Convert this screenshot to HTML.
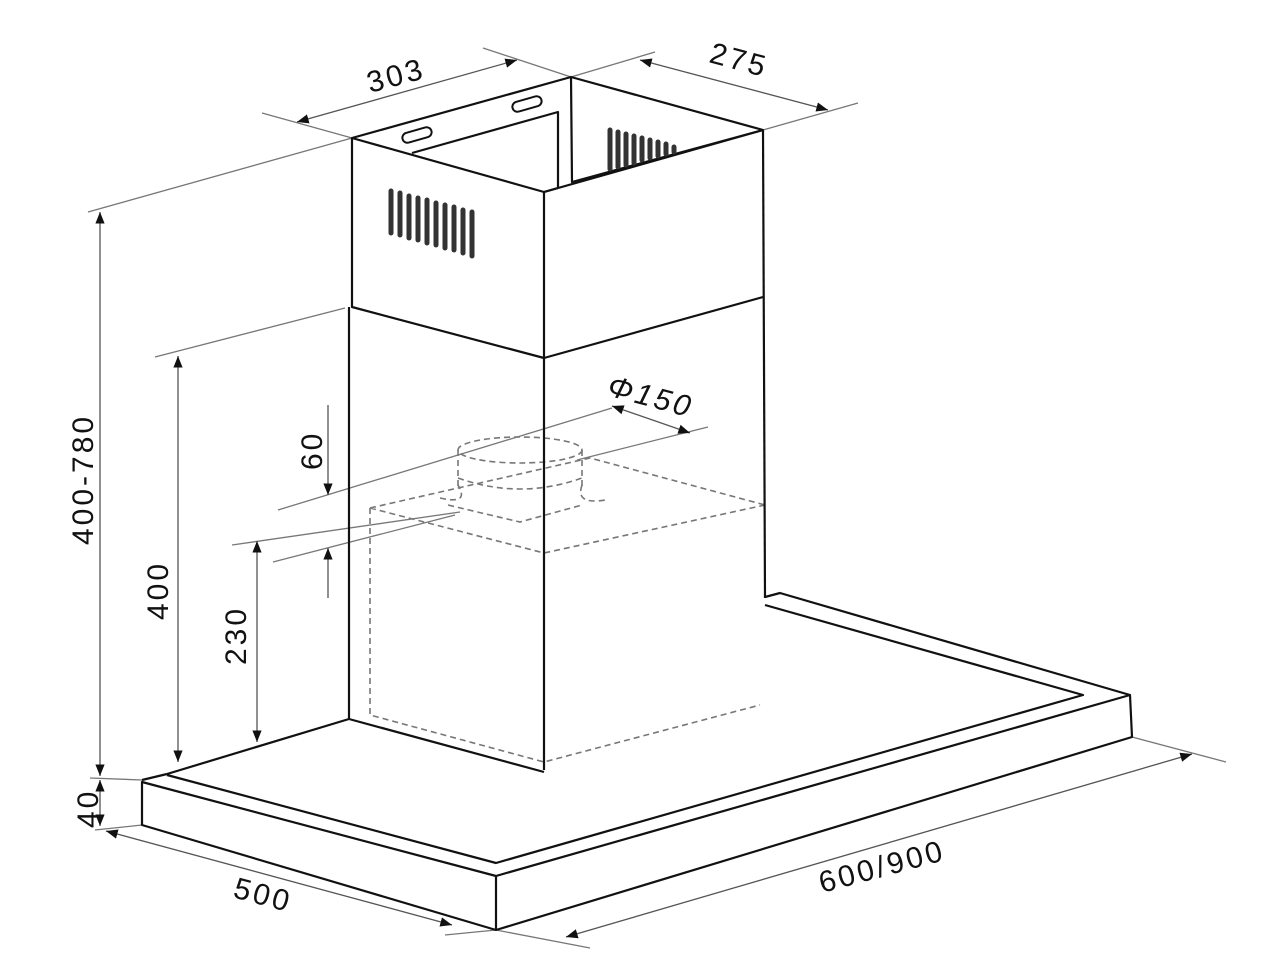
<!DOCTYPE html>
<html><head><meta charset="utf-8"><style>
html,body{margin:0;padding:0;background:#fff;}
svg{display:block}
text{font-family:"Liberation Sans",sans-serif;font-size:30px;fill:#111;letter-spacing:3px}
</style></head><body>
<svg width="1280" height="960" viewBox="0 0 1280 960" xmlns="http://www.w3.org/2000/svg">
<defs>
<marker id="a" viewBox="0 0 10 10" refX="10" refY="5" markerWidth="9" markerHeight="9" orient="auto-start-reverse"><path d="M0,1 L10,5 L0,9 z" fill="#111"/></marker>
</defs>
<g stroke="#777" stroke-width="1.3" fill="none">
<line x1="262" y1="113" x2="352" y2="138"/>
<line x1="483" y1="48" x2="571" y2="77"/>
<line x1="571" y1="77" x2="655" y2="52"/>
<line x1="763" y1="130" x2="858" y2="103"/>
<line x1="88" y1="212" x2="352" y2="138"/>
<line x1="90" y1="778" x2="142" y2="780"/>
<line x1="95" y1="830" x2="142" y2="825"/>
<line x1="155" y1="357" x2="345" y2="308"/>
<line x1="278" y1="510" x2="612" y2="408"/>
<line x1="577" y1="460" x2="708" y2="427"/>
<line x1="232" y1="545" x2="460" y2="512"/>
<line x1="273" y1="562" x2="455" y2="515"/>
<line x1="445" y1="935" x2="496" y2="930"/>
<line x1="496" y1="930" x2="590" y2="948"/>
<line x1="1132" y1="737" x2="1226" y2="762"/>
<line x1="328" y1="405" x2="328" y2="495" marker-end="url(#a)" stroke="#555"/>
<line x1="328" y1="598" x2="328" y2="548" marker-end="url(#a)" stroke="#555"/>
</g>
<g stroke="#555" stroke-width="1.3" fill="none" marker-start="url(#a)" marker-end="url(#a)">
<line x1="297" y1="122" x2="517" y2="60"/>
<line x1="640" y1="60" x2="828" y2="110"/>
<line x1="100" y1="212" x2="100" y2="776"/>
<line x1="100" y1="780" x2="100" y2="826"/>
<line x1="178" y1="356" x2="178" y2="762"/>
<line x1="257" y1="541" x2="257" y2="742"/>
<line x1="612" y1="406" x2="690" y2="433"/>
<line x1="106" y1="831" x2="452" y2="925"/>
<line x1="566" y1="937" x2="1192" y2="754"/>
</g>
<g stroke="#777" stroke-width="1.6" fill="none" stroke-dasharray="6,4">
<ellipse cx="520" cy="450" rx="62" ry="13"/>
<path d="M458,450 L458,487 M582,450 L582,487"/>
<path d="M458,478 Q520,500 582,478"/>
<path d="M440,498 Q470,505 458,485 M582,485 Q575,505 605,500"/>
<path d="M448,505 Q490,515 520,522 L582,505"/>
<path d="M370,508 L590,458 L765,505 M370,508 L544,553 L765,505"/>
<path d="M370,508 L370,715 L544,762 L760,705"/>
</g>
<g stroke="#111" stroke-width="2.2" fill="none" stroke-linejoin="round">
<path d="M352,138 L571,77 L763,130 L544,192 Z"/>
<path d="M412,153 L558,112 L558,188"/>
<path d="M571,77 L572,182 L763,130"/>
<path d="M544,192 L558,188"/>
<path d="M352,138 L352,307 L544,358 L763,297"/>
<path d="M544,192 L544,770"/>
<path d="M763,130 L765,598"/>
<path d="M349,307 L349,719 L544,772"/>
<path d="M167,774 L349,719"/>
<path d="M142,780 L167,774"/>
<path d="M167,775 L496,863 L1083,695 L765,605"/>
<path d="M765,597 L780,593 L1130,695"/>
<path d="M142,782 L496,876 L1130,695 L1132,737 L496,930 L142,825 Z"/>
<path d="M496,876 L496,930"/>
</g>
<g stroke="#111" stroke-width="2" fill="none">
<rect x="402" y="130" width="30" height="10" rx="5" transform="rotate(-16 417 135)"/>
<rect x="512" y="99" width="30" height="10" rx="5" transform="rotate(-16 527 104)"/>
</g>
<g stroke="#333" stroke-width="5" stroke-linecap="round">
<line x1="391" y1="191" x2="391" y2="233"/>
<line x1="400" y1="193" x2="400" y2="235"/>
<line x1="409" y1="196" x2="409" y2="238"/>
<line x1="418" y1="198" x2="418" y2="240"/>
<line x1="427" y1="200" x2="427" y2="243"/>
<line x1="436" y1="203" x2="436" y2="245"/>
<line x1="445" y1="205" x2="445" y2="248"/>
<line x1="454" y1="207" x2="454" y2="250"/>
<line x1="463" y1="210" x2="463" y2="253"/>
<line x1="472" y1="212" x2="472" y2="256"/>
<line x1="610" y1="130" x2="610" y2="169"/>
<line x1="618" y1="132" x2="618" y2="167"/>
<line x1="626" y1="134" x2="626" y2="165"/>
<line x1="634" y1="136" x2="634" y2="163"/>
<line x1="642" y1="138" x2="642" y2="160"/>
<line x1="650" y1="140" x2="650" y2="158"/>
<line x1="658" y1="142" x2="658" y2="156"/>
<line x1="666" y1="144" x2="666" y2="154"/>
<line x1="674" y1="147" x2="674" y2="152"/>
</g>
<text x="370" y="93" transform="rotate(-15 370 93)">303</text>
<text x="708" y="62" transform="rotate(15 708 62)">275</text>
<text x="93" y="545" transform="rotate(-90 93 545)">400-780</text>
<text x="168" y="620" transform="rotate(-90 168 620)">400</text>
<text x="246" y="665" transform="rotate(-90 246 665)">230</text>
<text x="322" y="470" transform="rotate(-90 322 470)">60</text>
<text x="606" y="395" transform="rotate(15 606 395)" style="font-style:italic">Φ150</text>
<text x="98" y="828" transform="rotate(-90 98 828)">40</text>
<text x="232" y="897" transform="rotate(15 232 897)">500</text>
<text x="822" y="893" transform="rotate(-15 822 893)">600/900</text>
</svg>
</body></html>
